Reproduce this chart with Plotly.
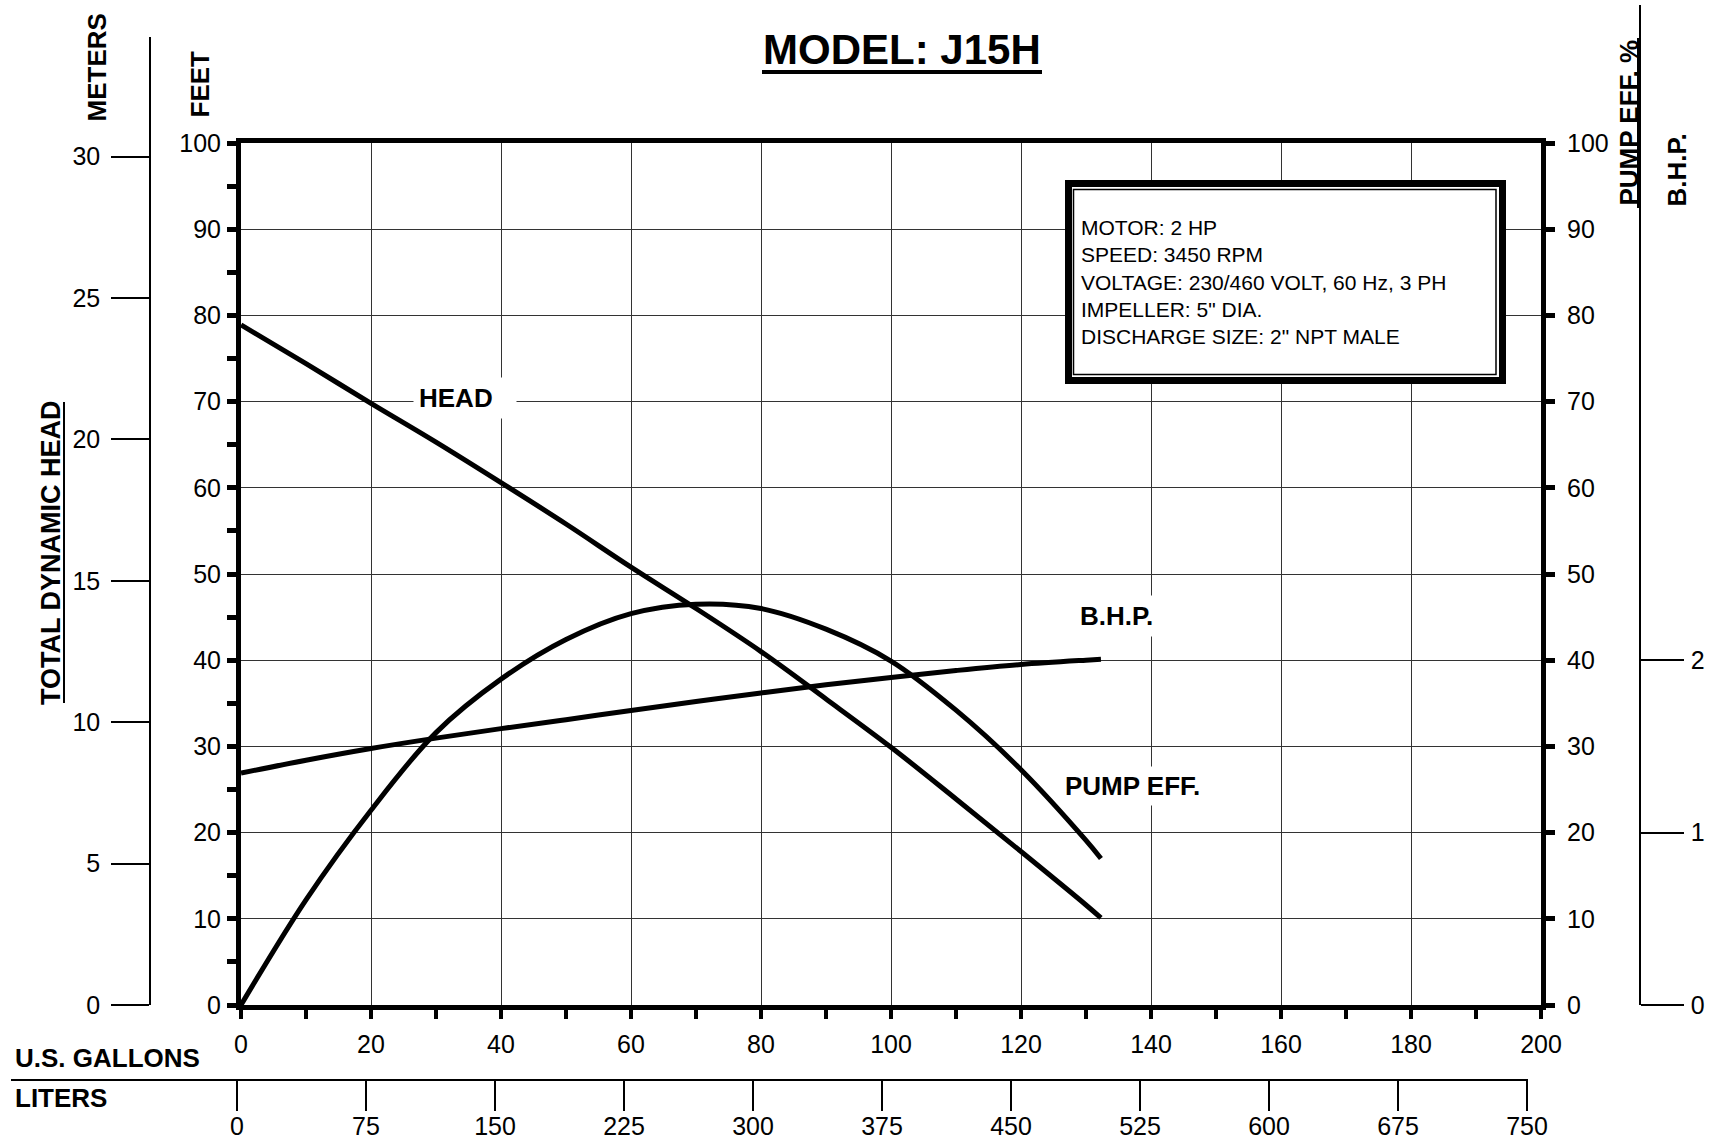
import plotly.graph_objects as go

# ---------------- data ----------------
head_gpm = [0, 10, 20, 30, 40, 50, 60, 70, 80, 90, 100, 110, 120, 130, 132.3]
head_ft = [78.9, 74.4, 69.8, 65.3, 60.6, 55.8, 50.8, 46.0, 41.0, 35.5, 29.9, 23.9, 17.8, 11.6, 10.1]

eff_gpm = [0, 10, 20, 30, 40, 50, 60, 70, 80, 90, 100, 110, 120, 130, 132.3]
eff_pct = [0, 12.2, 22.6, 31.6, 37.8, 42.4, 45.4, 46.5, 46.0, 43.6, 39.9, 34.2, 27.3, 19.1, 17.0]

bhp_gpm = [0, 10, 20, 30, 40, 50, 60, 70, 80, 90, 100, 110, 120, 130, 132.3]
bhp_hp = [1.345, 1.42, 1.488, 1.548, 1.603, 1.655, 1.708, 1.76, 1.81, 1.857, 1.90, 1.94, 1.975, 2.0, 2.005]

gal_ticks = list(range(0, 201, 20))
liter_ticks = list(range(0, 751, 75))
meter_ticks = list(range(0, 31, 5))
bhp_ticks = [0, 1, 2]
pct_ticks = list(range(0, 101, 10))

info_lines = [
    "MOTOR: 2 HP",
    "SPEED: 3450 RPM",
    "VOLTAGE: 230/460 VOLT, 60 Hz, 3 PH",
    'IMPELLER: 5" DIA.',
    'DISCHARGE SIZE: 2" NPT MALE',
]

# ---------------- layout helpers ----------------
W, H = 1712, 1141
FONT = "Liberation Sans, Arial, sans-serif"


def fx(p):
    return p / W


def fy(p):
    return 1 - p / H


PL, PR, PT, PB = 241, 1541, 143, 1005
BLACK = "black"

fig = go.Figure()

fig.add_trace(go.Scatter(x=head_gpm, y=head_ft, mode="lines", line=dict(color=BLACK, width=5, shape="spline"),
                         xaxis="x", yaxis="y", hoverinfo="skip"))
fig.add_trace(go.Scatter(x=eff_gpm, y=eff_pct, mode="lines", line=dict(color=BLACK, width=5, shape="spline"),
                         xaxis="x", yaxis="y2", hoverinfo="skip"))
fig.add_trace(go.Scatter(x=bhp_gpm, y=bhp_hp, mode="lines", line=dict(color=BLACK, width=5, shape="spline"),
                         xaxis="x4", yaxis="y4", hoverinfo="skip"))
# dummy traces to register secondary axes
fig.add_trace(go.Scatter(x=[None], y=[None], xaxis="x4", yaxis="y3", hoverinfo="skip"))
fig.add_trace(go.Scatter(x=[None], y=[None], xaxis="x3", yaxis="y5", hoverinfo="skip"))

tickfont = dict(family=FONT, size=25, color=BLACK)

fig.update_layout(
    width=W, height=H,
    margin=dict(l=0, r=0, t=0, b=0, pad=0, autoexpand=False),
    paper_bgcolor="white", plot_bgcolor="rgba(0,0,0,0)",
    showlegend=False, hovermode=False,
    font=dict(family=FONT, color=BLACK),
    xaxis=dict(
        domain=[fx(PL), fx(PR)], range=[0, 200], anchor="y", automargin=False,
        tickvals=gal_ticks, ticks="outside", ticklen=9, tickwidth=4, tickcolor=BLACK,
        minor=dict(dtick=10, tick0=0, ticks="outside", ticklen=9, tickwidth=4, tickcolor=BLACK, showgrid=False),
        showline=True, linewidth=5, linecolor=BLACK, mirror=True,
        showgrid=True, gridcolor="#333", gridwidth=1, zeroline=False,
        tickfont=tickfont, ticklabelstandoff=4,
    ),
    yaxis=dict(
        domain=[fy(PB), fy(PT)], range=[0, 100], anchor="x", side="left", automargin=False,
        tickvals=pct_ticks, ticks="outside", ticklen=9, tickwidth=5, tickcolor=BLACK,
        minor=dict(dtick=5, tick0=0, ticks="outside", ticklen=9, tickwidth=5, tickcolor=BLACK, showgrid=False),
        showline=True, linewidth=5, linecolor=BLACK,
        showgrid=True, gridcolor="#333", gridwidth=1, zeroline=False,
        tickfont=tickfont, ticklabelstandoff=1,
    ),
    yaxis2=dict(
        overlaying="y", side="right", anchor="x", range=[0, 100], automargin=False,
        tickvals=pct_ticks, ticks="outside", ticklen=9, tickwidth=5, tickcolor=BLACK,
        showline=True, linewidth=5, linecolor=BLACK,
        showgrid=False, zeroline=False, tickfont=tickfont, ticklabelstandoff=7,
    ),
    yaxis3=dict(
        domain=[fy(PB), fy(37)], range=[0, 34.23], anchor="free", position=fx(150), side="left",
        automargin=False,
        tickvals=meter_ticks, ticks="outside", ticklen=38, tickwidth=1.5, tickcolor=BLACK,
        showline=True, linewidth=1.5, linecolor=BLACK,
        showgrid=False, zeroline=False, tickfont=tickfont, ticklabelstandoff=6,
    ),
    yaxis4=dict(
        domain=[fy(PB), fy(5)], range=[0, 5.80], anchor="free", position=fx(1640), side="right",
        automargin=False,
        tickvals=bhp_ticks, ticks="outside", ticklen=43, tickwidth=1.5, tickcolor=BLACK,
        showline=True, linewidth=1.5, linecolor=BLACK,
        showgrid=False, zeroline=False, tickfont=tickfont, ticklabelstandoff=2,
    ),
    yaxis5=dict(domain=[fy(PB), fy(PT)], range=[0, 1], visible=False, anchor="x3", automargin=False),
    xaxis3=dict(
        domain=[fx(237), fx(1527)], range=[0, 750], anchor="free", position=fy(1080), side="bottom",
        automargin=False,
        tickvals=liter_ticks, ticks="outside", ticklen=30, tickwidth=1.5, tickcolor=BLACK,
        showline=False, showgrid=False, zeroline=False, tickfont=tickfont, ticklabelstandoff=-6,
    ),
    xaxis4=dict(domain=[fx(PL), fx(PR)], range=[0, 200], visible=False, anchor="y4", automargin=False),
)

shapes = []
# title underline
shapes.append(dict(type="line", xref="paper", yref="paper", x0=fx(762), x1=fx(1042), y0=fy(72), y1=fy(72),
                   line=dict(color=BLACK, width=4)))
# TOTAL DYNAMIC HEAD underline
shapes.append(dict(type="line", xref="paper", yref="paper", x0=fx(64), x1=fx(64), y0=fy(402), y1=fy(703),
                   line=dict(color=BLACK, width=2)))
# PUMP EFF. % underline
shapes.append(dict(type="line", xref="paper", yref="paper", x0=fx(1638), x1=fx(1638), y0=fy(38), y1=fy(208),
                   line=dict(color=BLACK, width=2)))
# liters axis line
shapes.append(dict(type="line", xref="paper", yref="paper", x0=fx(11), x1=fx(1528), y0=fy(1080), y1=fy(1080),
                   line=dict(color=BLACK, width=2)))
# info box
shapes.append(dict(type="rect", xref="paper", yref="paper", x0=fx(1068.5), x1=fx(1502.5), y0=fy(183.5), y1=fy(380.5),
                   line=dict(color=BLACK, width=7), fillcolor="white"))
shapes.append(dict(type="rect", xref="paper", yref="paper", x0=fx(1073.5), x1=fx(1496), y0=fy(189.5), y1=fy(374.5),
                   line=dict(color=BLACK, width=1.5), fillcolor="rgba(0,0,0,0)"))
fig.update_layout(shapes=shapes)

ann = []


def add_text(text, x, y, size=26, bold=True, angle=0, xanchor="center", yanchor="middle", **kw):
    t = f"<b>{text}</b>" if bold else text
    ann.append(dict(text=t, x=fx(x), y=fy(y), xref="paper", yref="paper", showarrow=False,
                    font=dict(family=FONT, size=size, color=BLACK), textangle=angle,
                    xanchor=xanchor, yanchor=yanchor, **kw))


add_text("MODEL: J15H", 902, 49.5, size=42)
add_text("<br>".join(info_lines), 1079, 214, size=21, bold=False, xanchor="left", yanchor="top", align="left")
add_text("HEAD", 413, 397.5, size=26, xanchor="left", width=92, align="left", bgcolor="white", borderpad=5)
add_text("B.H.P.", 1116, 616, size=26, bgcolor="white", borderpad=5)
add_text("PUMP EFF.", 1132, 786, size=26, bgcolor="white", borderpad=4)
add_text("TOTAL DYNAMIC HEAD", 51, 553, size=27, angle=-90)
add_text("FEET", 200, 84.5, size=26, angle=-90)
add_text("METERS", 96, 67.5, size=26, angle=-90)
add_text("PUMP EFF. %", 1628.5, 123, size=26, angle=-90)
add_text("B.H.P.", 1677, 170.5, size=26, angle=-90)
add_text("U.S. GALLONS", 13, 1058, size=26, xanchor="left")
add_text("LITERS", 13, 1098, size=26, xanchor="left")
fig.update_layout(annotations=ann)

fig.write_html("out.html", config={"displayModeBar": False},
               post_script="document.body.style.margin='0px';")
